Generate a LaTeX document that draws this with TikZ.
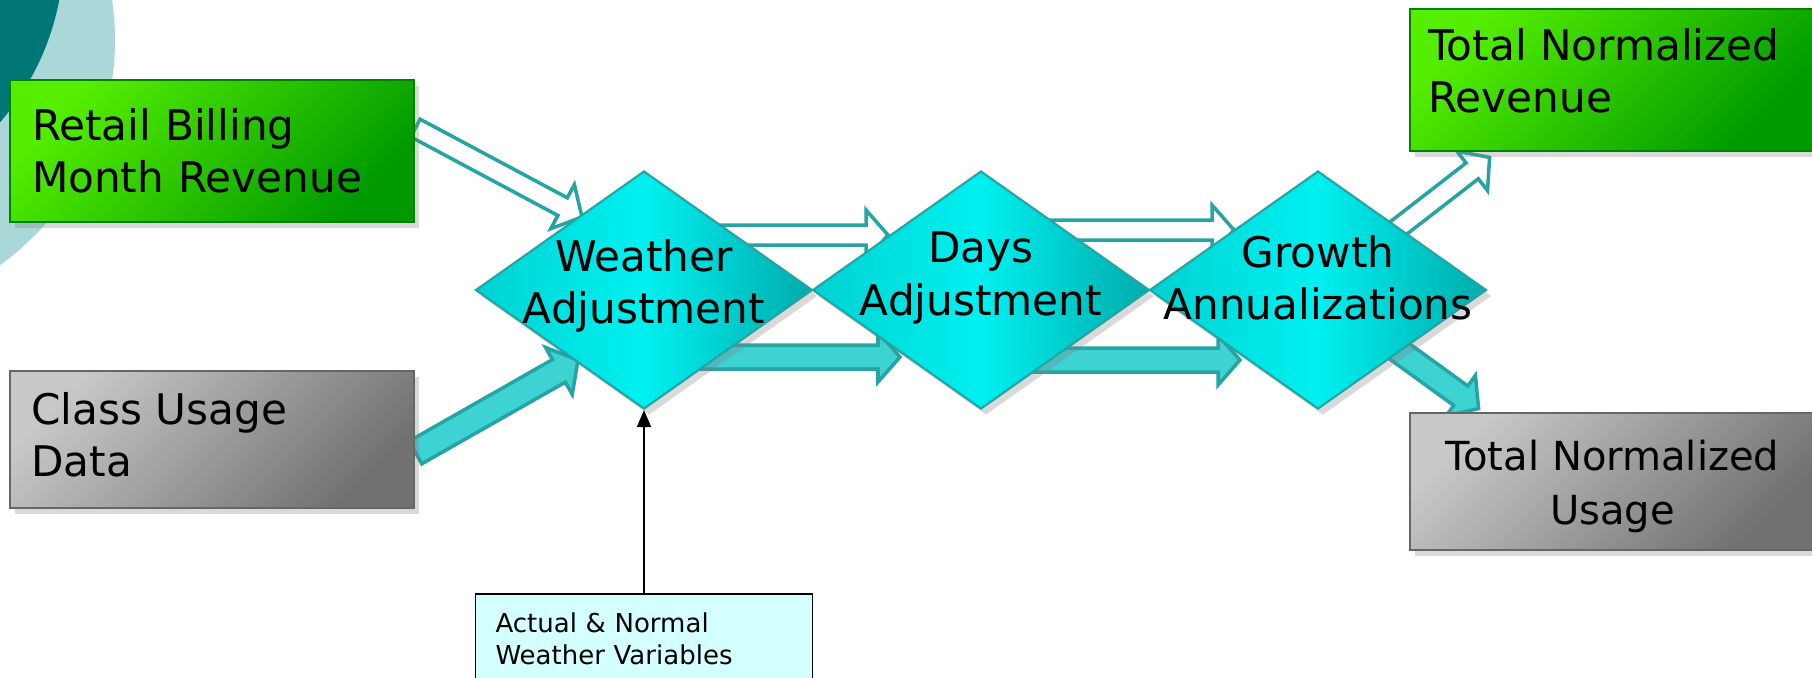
\documentclass[tikz,border=0pt]{standalone}
\usepackage{fontspec}
\setmainfont{DejaVu Sans}
\usetikzlibrary{shapes.geometric,shadows,calc,arrows.meta,backgrounds}
\definecolor{tealdark}{HTML}{007676}
\definecolor{teallight}{HTML}{AAD7D8}
\definecolor{greenhi}{HTML}{55EE00}
\definecolor{greenlo}{HTML}{009A00}
\definecolor{greyhi}{HTML}{C8C8C8}
\definecolor{greylo}{HTML}{717171}
\definecolor{cyanleft}{HTML}{00D2D2}
\definecolor{cyanmid}{HTML}{00F0F0}
\definecolor{cyanlo}{HTML}{00ABAB}
\definecolor{arrline}{HTML}{26A3A3}
\definecolor{arrfill}{HTML}{3DD3D3}
\definecolor{notefill}{HTML}{D4FFFF}

\newcommand{\blockarrow}[5]{%
  \coordinate (hb) at ($(#3)!0.22cm!(#2)$);
  \draw[#1] ($(#2)!#4!90:(#3)$) -- ($(hb)!#4!90:(#3)$) -- ($(hb)!#5!90:(#3)$)
    -- (#3) -- ($(hb)!#5!-90:(#3)$) -- ($(hb)!#4!-90:(#3)$)
    -- ($(#2)!#4!-90:(#3)$) -- cycle;
}

\begin{document}
\begin{tikzpicture}[
    txt/.style={font=\fontsize{12}{14.8}\selectfont},
    shadowed/.style={drop shadow={shadow xshift=0.05cm, shadow yshift=-0.06cm, opacity=0.3}},
    greenbox/.style={draw=greenlo!85!black, line width=0.8pt, top color=greenhi, bottom color=greenlo,
        shading angle=45, minimum height=1.42cm, inner xsep=0.22cm, text width=3.6cm, align=left, txt, shadowed},
    greybox/.style={draw=greylo!90!black, line width=0.8pt, top color=greyhi, bottom color=greylo,
        shading angle=45, minimum height=1.37cm, inner xsep=0.22cm, text width=3.6cm, align=left, txt, shadowed},
    decision/.style={diamond, draw=arrline, line width=0.6pt, left color=cyanleft, right color=cyanlo,
        middle color=cyanmid, minimum width=3.37cm, minimum height=2.38cm, inner sep=0pt, shadowed},
    dtext/.style={txt, align=center},
    revarrow/.style={draw=arrline, fill=white, line width=1pt},
    usearrow/.style={draw=arrline, fill=arrfill, line width=1pt}
]
\useasboundingbox (0,0) rectangle (18.12,-6.77);

\node[greenbox] (retail) at (2.12,-1.51) {Retail Billing\\Month Revenue};
\node[greybox] (classu) at (2.12,-4.395) {};
\node[txt, align=left, anchor=west, inner sep=0pt] (classutxt) at ([xshift=0.22cm, yshift=0.05cm]classu.west) {Class Usage\\Data};
\node[greenbox, text width=3.61cm] (totrev) at (16.125,-0.80) {};
\node[txt, align=left, anchor=west, inner sep=0pt] (totrevtxt) at ([xshift=0.19cm, yshift=0.09cm]totrev.west) {Total Normalized\\Revenue};
\node[greybox, text width=3.61cm] (totuse) at (16.125,-4.815) {};
\node[font=\fontsize{11.4}{15.4}\selectfont, align=center, inner sep=0pt] (totusetxt) at ([yshift=-0.05cm]totuse.center) {Total Normalized\\Usage};

\node[decision, label={[dtext, yshift=0.04cm]center:Weather\\Adjustment}] (weather) at (6.44,-2.90) {};
\node[decision, label={[dtext, yshift=0.12cm]center:Days\\Adjustment}] (days) at (9.81,-2.90) {};
\node[decision, label={[dtext, yshift=0.12cm]center:Growth\\Annualizations}] (growth) at (13.18,-2.90) {};

\node[draw=black, line width=0.5pt, fill=notefill, anchor=north, text width=2.97cm, inner xsep=0.2cm,
    minimum height=0.9cm, align=left, font=\fontsize{7.4}{9.1}\selectfont] (vars) at (6.44,-5.93)
    {Actual \& Normal\\Weather Variables};

\draw[-{Triangle[length=0.17cm, width=0.14cm]}, line width=0.6pt] (vars.north) -- (weather.south);

\coordinate (r1a) at ([yshift=0.23cm]retail.east);
\coordinate (r1b) at ($(weather)+(-0.62,0.73)$);
\coordinate (u1a) at ([yshift=-0.13cm]classu.east);
\coordinate (u1b) at ($(weather)+(-0.66,-0.70)$);
\coordinate (r2a) at ($(weather)+(0.70,0.55)$);
\coordinate (r2b) at ($(days)+(-0.93,0.55)$);
\coordinate (u2a) at ($(weather)+(0.45,-0.67)$);
\coordinate (u2b) at ($(days)+(-0.81,-0.67)$);
\coordinate (r3a) at ($(days)+(0.62,0.60)$);
\coordinate (r3b) at ($(growth)+(-0.84,0.60)$);
\coordinate (u3a) at ($(days)+(0.40,-0.70)$);
\coordinate (u3b) at ($(growth)+(-0.78,-0.70)$);
\coordinate (r4a) at ($(growth)+(0.52,0.40)$);
\coordinate (r4b) at ([xshift=0.81cm, yshift=-0.05cm]totrev.south west);
\coordinate (u4a) at ($(growth)+(0.52,-0.40)$);
\coordinate (u4b) at ([xshift=0.70cm, yshift=0.03cm]totuse.north west);

\begin{scope}[on background layer]
    \fill[teallight] (-1.63,-0.40) circle (2.78);
    \fill[tealdark] (-2.0,0.5) circle (2.64);
    \blockarrow{revarrow}{r1a}{r1b}{0.1cm}{0.25cm}
    \blockarrow{usearrow}{u1a}{u1b}{0.13cm}{0.27cm}
    \blockarrow{revarrow}{r2a}{r2b}{0.1cm}{0.25cm}
    \blockarrow{usearrow}{u2a}{u2b}{0.12cm}{0.25cm}
    \blockarrow{revarrow}{r3a}{r3b}{0.1cm}{0.25cm}
    \blockarrow{usearrow}{u3a}{u3b}{0.12cm}{0.25cm}
    \blockarrow{revarrow}{r4a}{r4b}{0.1cm}{0.25cm}
    \blockarrow{usearrow}{u4a}{u4b}{0.12cm}{0.25cm}
\end{scope}
\end{tikzpicture}
\end{document}
